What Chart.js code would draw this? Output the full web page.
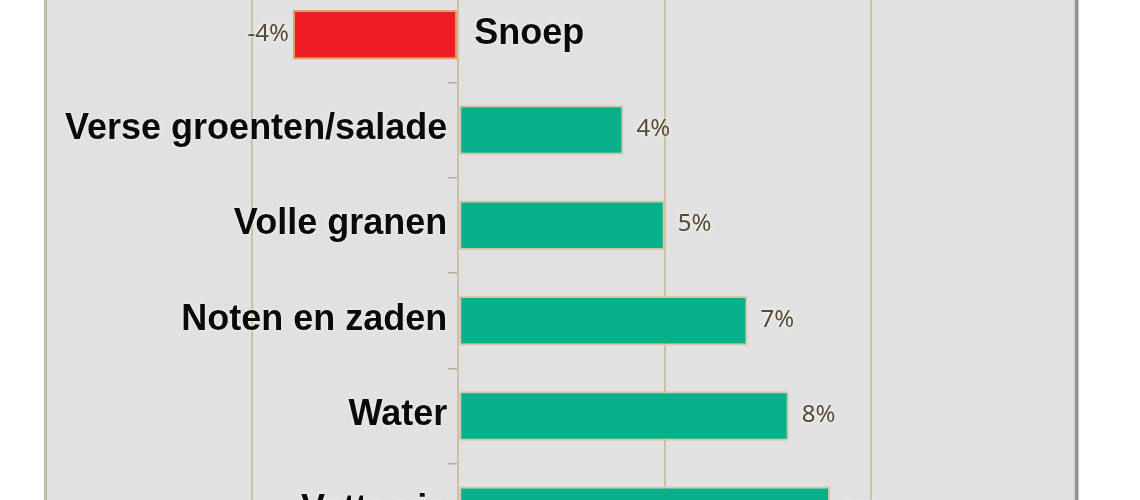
<!DOCTYPE html>
<html>
<head>
<meta charset="utf-8">
<script src="https://cdn.jsdelivr.net/npm/chart.js@4/dist/chart.umd.min.js"></script>
<style>
  html, body { margin:0; padding:0; background:#ffffff; overflow:hidden; }
  #wrap { position:absolute; left:0; top:-13px; width:1140px; height:572px; }
</style>
</head>
<body>
<div id="wrap"><canvas id="c"></canvas></div>
<script>
const categories = ['Snoep', 'Verse groenten/salade', 'Volle granen', 'Noten en zaden', 'Water', 'Vette vis'];
const values = [-4, 4, 5, 7, 8, 9];
const valueLabels = ['-4%', '4%', '5%', '7%', '8%', '9%'];
const xTicks = [-10, -5, 0, 5, 10, 15];

const GREEN = '#08b08a', RED = '#ee1c25';
const TAN = '#cbc1a3';

const framePlugin = {
  id: 'frame',
  beforeDraw(chart) {
    const {ctx, chartArea: a} = chart;
    ctx.save();
    ctx.fillStyle = '#e1e1e1';
    ctx.fillRect(a.left, a.top, a.right - a.left, a.bottom - a.top);
    ctx.restore();
  },
  afterDraw(chart) {
    const {ctx, chartArea: a} = chart;
    ctx.save();
    ctx.fillStyle = '#bfb9a8';
    ctx.fillRect(a.left, a.top, 2, a.bottom - a.top);
    ctx.fillStyle = '#d2d2d2';
    ctx.fillRect(a.right - 5, a.top, 2, a.bottom - a.top);
    ctx.fillStyle = '#939393';
    ctx.fillRect(a.right - 3, a.top, 3, a.bottom - a.top);
    ctx.restore();
  }
};

const labelPlugin = {
  id: 'labels',
  afterDatasetsDraw(chart) {
    const {ctx} = chart;
    const meta = chart.getDatasetMeta(0);
    const zero = chart.scales.x.getPixelForValue(0);
    ctx.save();
    meta.data.forEach((bar, i) => {
      const v = values[i];
      const y = bar.y;
      // category label
      ctx.font = 'bold 36px "Liberation Sans", Arial, sans-serif';
      ctx.fillStyle = '#0a0a0a';
      ctx.textBaseline = 'middle';
      ctx.shadowColor = 'rgba(255,255,255,0.9)';
      ctx.shadowBlur = 3;
      if (v >= 0) {
        ctx.textAlign = 'right';
        ctx.fillText(categories[i], zero - 11, y - 1);
      } else {
        ctx.textAlign = 'left';
        ctx.fillText(categories[i], zero + 16, y - 1);
      }
      // value label
      ctx.font = '24px "Noto Sans", "Open Sans", sans-serif';
      ctx.fillStyle = '#574a32';
      ctx.shadowColor = 'rgba(255,255,255,0.95)';
      ctx.shadowBlur = 4;
      if (v >= 0) {
        ctx.textAlign = 'left';
        ctx.fillText(valueLabels[i], bar.x + 13, y - 1);
      } else {
        ctx.textAlign = 'right';
        ctx.fillText(valueLabels[i], bar.x - 4, y - 1);
      }
    });
    ctx.restore();
  }
};

new Chart(document.getElementById('c'), {
  type: 'bar',
  data: {
    labels: categories,
    datasets: [{
      data: values,
      backgroundColor: ctx => (values[ctx.dataIndex] < 0 ? RED : GREEN),
      borderColor: ctx => (values[ctx.dataIndex] < 0 ? '#e3a066' : '#d3c7a6'),
      borderWidth: 2,
      borderSkipped: false,
      categoryPercentage: 1,
      barPercentage: 0.52
    }]
  },
  options: {
    indexAxis: 'y',
    responsive: true,
    maintainAspectRatio: false,
    animation: false,
    layout: { padding: { left: 45, right: 62, top: 0, bottom: 0 } },
    plugins: { legend: { display: false }, tooltip: { enabled: false } },
    scales: {
      x: {
        type: 'linear',
        min: xTicks[0],
        max: xTicks[xTicks.length - 1],
        afterBuildTicks: s => { s.ticks = xTicks.map(v => ({ value: v })); },
        ticks: { display: false },
        grid: { color: TAN, lineWidth: 2, drawTicks: false },
        border: { display: false },
        afterFit: s => { s.height = 0; }
      },
      y: {
        position: { x: 0 },
        ticks: { display: false },
        grid: { offset: true, drawOnChartArea: false, drawTicks: true, tickLength: 9, color: '#b5ad95', lineWidth: 1.5 },
        border: { display: true, color: TAN, width: 2 },
        afterFit: s => { s.width = 0; }
      }
    }
  },
  plugins: [framePlugin, labelPlugin]
});
</script>
</body>
</html>
